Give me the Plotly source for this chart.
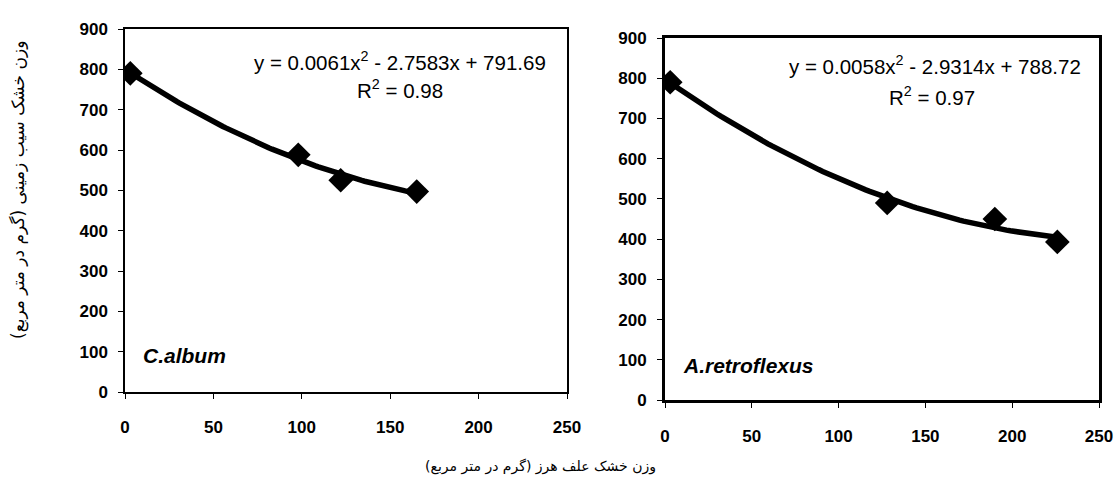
import numpy as np
import plotly.graph_objects as go

# Data
calbum_x = [3, 98, 122, 165]
calbum_y = [790, 588, 525, 497]
aretro_x = [3, 128, 190, 226]
aretro_y = [790, 490, 450, 393]

# Trendline labels as printed on the chart
calbum_eq = "y = 0.0061x<sup>2</sup> - 2.7583x + 791.69"
aretro_eq = "y = 0.0058x<sup>2</sup> - 2.9314x + 788.72"
calbum_r2 = "R<sup>2</sup> = 0.98"
aretro_r2 = "R<sup>2</sup> = 0.97"

x_ticks = [0, 50, 100, 150, 200, 250]
y_ticks = [0, 100, 200, 300, 400, 500, 600, 700, 800, 900]

y_title = "وزن خشک سیب زمینی (گرم در متر مربع)"
x_title = "وزن خشک علف هرز (گرم در متر مربع)"

FONT = "Liberation Sans, Arial, sans-serif"
AR_FONT = "DejaVu Sans, sans-serif"
W, H = 1115, 489

def trend(xs, ys):
    coef = np.polyfit(xs, ys, 2)
    t = np.linspace(min(xs), max(xs), 100)
    return t, np.polyval(coef, t)

fig = go.Figure()

for xs, ys, xa, ya in [
    (calbum_x, calbum_y, "x", "y"),
    (aretro_x, aretro_y, "x2", "y2"),
]:
    tx, ty = trend(xs, ys)
    fig.add_trace(go.Scatter(x=tx, y=ty, mode="lines", line=dict(color="black", width=5.5),
                             xaxis=xa, yaxis=ya, showlegend=False, hoverinfo="skip"))
    fig.add_trace(go.Scatter(x=xs, y=ys, mode="markers",
                             marker=dict(symbol="diamond", size=19, color="black"),
                             xaxis=xa, yaxis=ya, showlegend=False))

def xaxis(domain, anchor, lw):
    return dict(domain=domain, anchor=anchor, range=[0, 250], tickvals=x_ticks,
                showgrid=False, zeroline=False, showline=True, linecolor="black", linewidth=lw,
                mirror=True, ticks="outside", ticklen=5, tickcolor="black", automargin=False,
                ticklabelstandoff=14,
                tickfont=dict(family=FONT, size=17, color="black", weight="bold"))

def yaxis(domain, anchor, lw):
    return dict(domain=domain, anchor=anchor, range=[0, 900], tickvals=y_ticks,
                showgrid=False, zeroline=False, showline=True, linecolor="black", linewidth=lw,
                mirror=True, ticks="outside", ticklen=5, tickcolor="black", automargin=False,
                ticklabelstandoff=7,
                tickfont=dict(family=FONT, size=17, color="black", weight="bold"))

fig.update_layout(
    width=W, height=H,
    margin=dict(l=0, r=0, t=0, b=0),
    paper_bgcolor="white", plot_bgcolor="white",
    xaxis=xaxis([125 / W, 567 / W], "y", 1.5),
    yaxis=yaxis([1 - 392 / H, 1 - 29 / H], "x", 1.5),
    xaxis2=xaxis([665 / W, 1099 / W], "y2", 3),
    yaxis2=yaxis([1 - 400 / H, 1 - 38 / H], "x2", 3),
)

ann = [
    dict(x=400, y=61, text=calbum_eq),
    dict(x=400, y=89, text=calbum_r2),
    dict(x=935, y=65, text=aretro_eq),
    dict(x=932, y=96, text=aretro_r2),
]
for a in ann:
    fig.add_annotation(xref="paper", yref="paper", x=a["x"] / W, y=1 - a["y"] / H, text=a["text"],
                       showarrow=False, xanchor="center", yanchor="middle",
                       font=dict(family=FONT, size=20.5, color="black"))

fig.add_annotation(xref="paper", yref="paper", x=141 / W, y=1 - 355 / H,
                   text="<b><i>C.album</i></b>", showarrow=False, xanchor="left", yanchor="middle",
                   font=dict(family=FONT, size=21, color="black"))
fig.add_annotation(xref="paper", yref="paper", x=681 / W, y=1 - 365 / H,
                   text="<b><i>A.retroflexus</i></b>", showarrow=False, xanchor="left", yanchor="middle",
                   font=dict(family=FONT, size=21, color="black"))

fig.add_annotation(xref="paper", yref="paper", x=18 / W, y=1 - 190 / H,
                   text=y_title, textangle=-90, showarrow=False, xanchor="center", yanchor="middle",
                   font=dict(family=AR_FONT, size=17, color="black"))
fig.add_annotation(xref="paper", yref="paper", x=540 / W, y=1 - 466 / H,
                   text=x_title, showarrow=False, xanchor="center", yanchor="middle",
                   font=dict(family=AR_FONT, size=14, color="black"))

fig.write_html("out.html", config={"displayModeBar": False},
               post_script="document.body.style.margin='0';")
